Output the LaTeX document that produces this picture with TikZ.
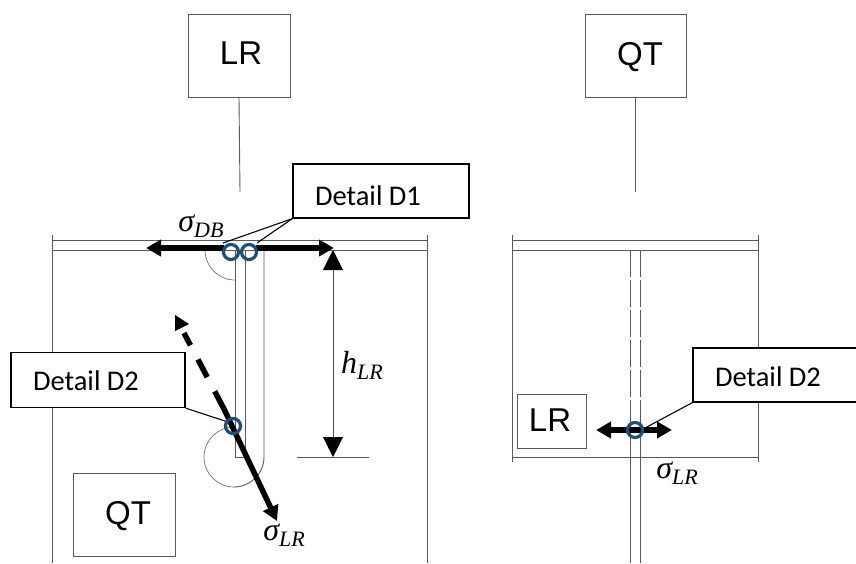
\documentclass[tikz,border=0pt]{standalone}
\usepackage{fontspec}
\setmainfont{Carlito}
\newfontfamily\boxfont{Liberation Sans}
\newfontfamily\symfont{Liberation Serif}
\usetikzlibrary{arrows.meta}
\definecolor{ringblue}{HTML}{1F4E79}
\newcommand{\symlabel}[2]{{\symfont\itshape #1\raisebox{-6pt}{\fontsize{22}{22}\selectfont #2}}}
\tikzset{
    plate/.style={draw=black!65,line width=0.9pt},
    thinarc/.style={draw=black!55,line width=0.7pt},
    membox/.style={draw=black!65,line width=1pt,fill=white,inner sep=0pt},
    memtext/.style={inner sep=0pt,text depth=0pt,font=\boxfont\fontsize{33}{33}\selectfont},
    detailbox/.style={draw=black,line width=1.2pt,fill=white,inner sep=0pt},
    detailtext/.style={inner sep=0pt,font=\fontsize{28.5}{28.5}\selectfont},
    leader/.style={draw=black,line width=1.1pt},
    ring/.style={circle,draw=ringblue,line width=3.2pt,minimum size=15pt,inner sep=0pt},
    force/.style={line width=5.5pt,-{Triangle[length=15pt,width=16pt]}},
    dim/.style={draw=black!70,line width=0.9pt,{Triangle[length=20pt,width=20pt,black]}-{Triangle[length=20pt,width=20pt,black]}},
    mathlabel/.style={inner sep=0pt,font=\fontsize{32}{32}\selectfont},
}
\begin{document}
\begin{tikzpicture}[x=1pt,y=-1pt]
    \useasboundingbox (0,0) rectangle (856,563);
    % left view
    \draw[plate] (52,235) -- (52,563);
    \draw[plate] (427,235) -- (427,563);
    \draw[plate] (52,240) -- (427,240);
    \draw[plate] (52,250) -- (427,250);
    \draw[plate] (235,250) -- (235,457) -- (245,457);
    \draw[plate] (245,250) -- (245,457);
    \draw[plate] (264,250) -- (264,457) arc[start angle=0,end angle=-90,radius=30pt];
    \draw[thinarc] (205,250) arc[start angle=180,end angle=270,radius=30pt];
    \draw[thinarc] (234,487) arc[start angle=-90,end angle=-270,radius=30pt];
    \draw[plate] (297,457) -- (369,457);
    \node[membox,minimum width=102pt,minimum height=83pt] (lrtop) at (239,56) {};
    \node[memtext] (lrtoptext) at (241,53.5) {LR};
    \node[membox,minimum width=102pt,minimum height=83pt] (qtleft) at (124,515) {};
    \node[memtext] (qtlefttext) at (128,513) {QT};
    \draw[plate] (lrtop.south) -- (240,192);
    % right view
    \draw[plate] (512,235) -- (512,462);
    \draw[plate] (758,235) -- (758,462);
    \draw[plate] (512,240) -- (758,240);
    \draw[plate] (512,250) -- (758,250);
    \draw[plate] (512,457) -- (758,457);
    \draw[plate,dash pattern=on 27pt off 3pt] (630,250) -- (630,457);
    \draw[plate,dash pattern=on 27pt off 3pt] (640,250) -- (640,457);
    \draw[plate] (630,457) -- (630,563);
    \draw[plate] (640,457) -- (640,563);
    \node[membox,minimum width=101pt,minimum height=83pt] (qttop) at (635.5,56) {};
    \node[memtext] (qttoptext) at (640,53.5) {QT};
    \node[membox,minimum width=69pt,minimum height=54pt] (lrright) at (551.5,421) {};
    \node[memtext] (lrrighttext) at (550,420) {LR};
    \draw[plate] (qttop.south) -- (635.5,192);
    % detail boxes
    \node[detailbox,minimum width=176pt,minimum height=54pt] (d1) at (381,191) {};
    \node[detailtext] (d1text) at (368,196) {Detail D1};
    \node[detailbox,minimum width=174pt,minimum height=55pt] (d2a) at (98,380) {};
    \node[detailtext] (d2atext) at (86,381) {Detail D2};
    \node[detailbox,minimum width=164pt,minimum height=54pt] (d2b) at (775,375) {};
    \node[detailtext] (d2btext) at (768,377) {Detail D2};
    % forces
    \coordinate (dbla) at (224,248);
    \coordinate (dbl) at (146,248);
    \coordinate (dbra) at (256,248);
    \coordinate (dbr) at (334,248);
    \coordinate (lrs) at (224,409);
    \coordinate (lre) at (277,521);
    \coordinate (lrd) at (184,333);
    \coordinate (rl) at (596,430);
    \coordinate (rr) at (672,430);
    \draw[force] (dbla) -- (dbl);
    \draw[force] (dbra) -- (dbr);
    \draw[force] (lrs) -- (lre);
    \draw[line width=5.5pt,dash pattern=on 20pt off 16pt] (lrs) -- (lrd);
    \fill (175,315) -- (189,324) -- (175,331) -- cycle;
    \draw[force,{Triangle[length=15pt,width=16pt]}-{Triangle[length=15pt,width=16pt]}] (rl) -- (rr);
    \draw[leader] (d1.south west) -- (223,243);
    \draw[leader] (d1.south west) -- (257,243);
    \draw[leader] (d2a.south east) -- (228,422);
    \draw[leader] (d2b.south west) -- (645,428);
    \node[ring] (c1) at (231,252) {};
    \node[ring] (c2) at (249,252) {};
    \node[ring] (c3) at (233,426) {};
    \node[ring] (c4) at (635,430) {};
    % dimension
    \coordinate (hs) at (333,250);
    \coordinate (he) at (333,457);
    \draw[dim] (hs) -- (he);
    \node[mathlabel] (hlabel) at (362,365) {\symlabel{h}{LR}};
    \node[mathlabel] (sdb) at (201,226) {\symlabel{σ}{DB}};
    \node[mathlabel] (slra) at (284,535) {\symlabel{σ}{LR}};
    \node[mathlabel] (slrb) at (677,473) {\symlabel{σ}{LR}};
\end{tikzpicture}
\end{document}
